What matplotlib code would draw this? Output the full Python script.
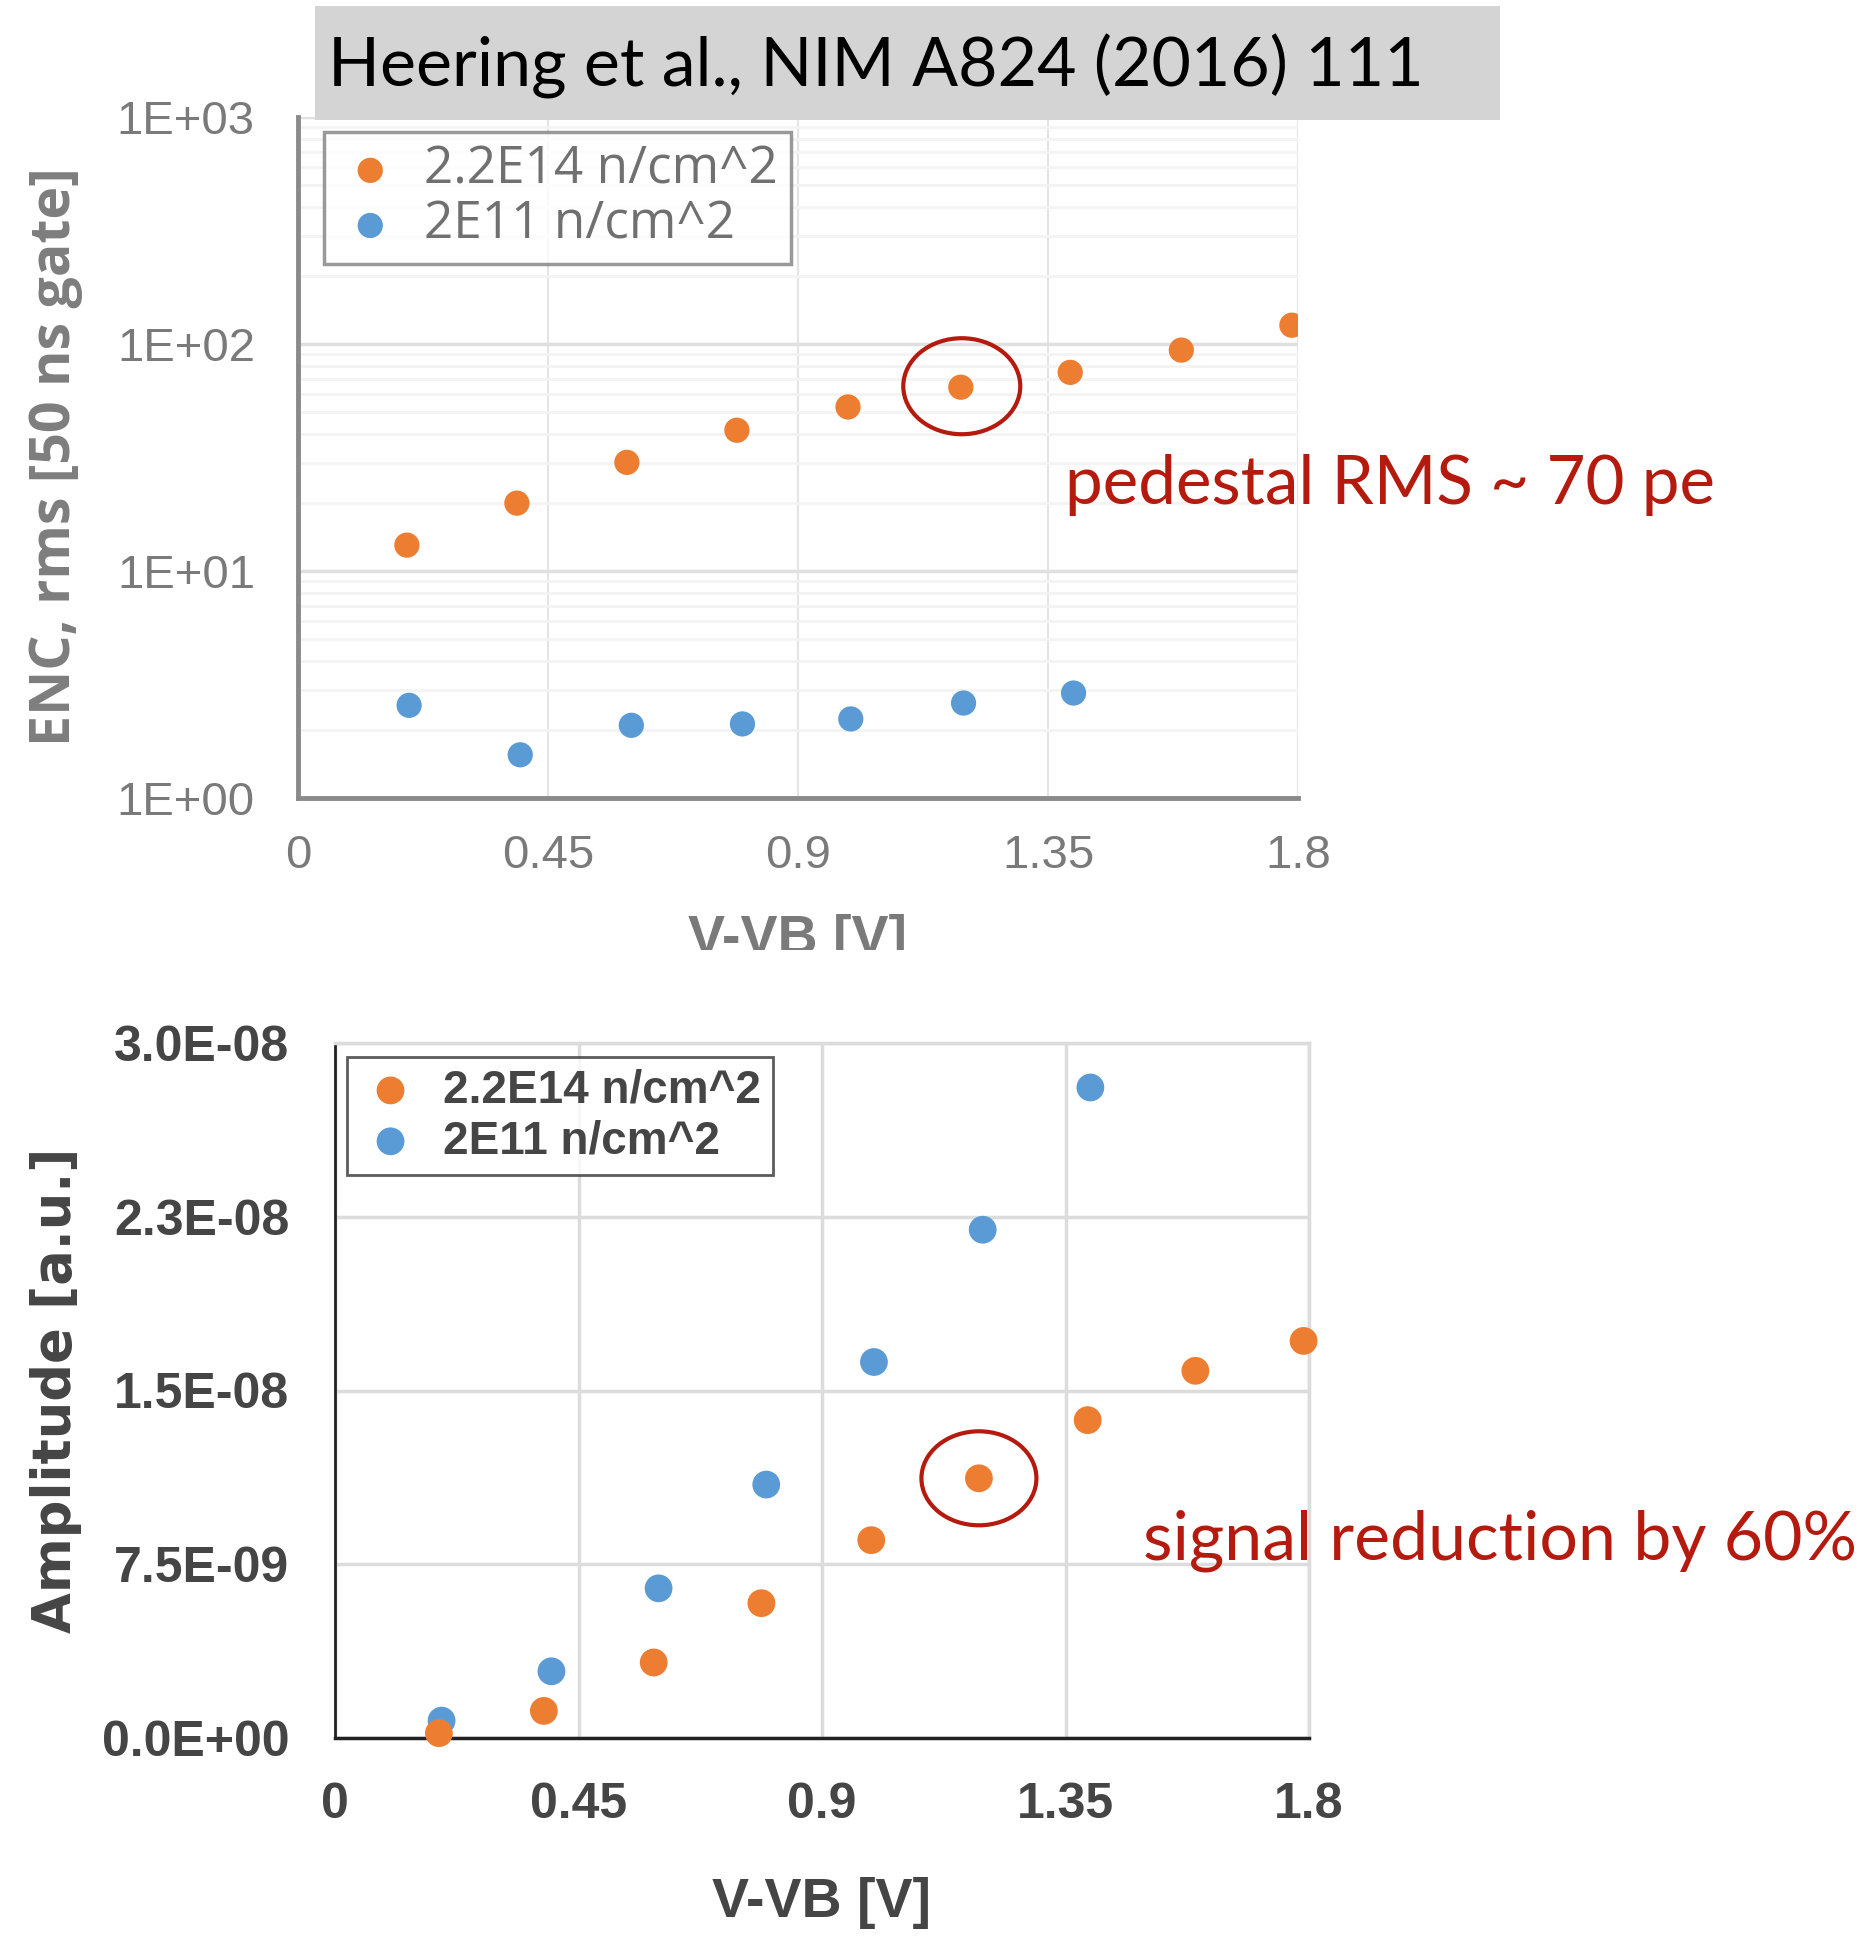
import matplotlib
matplotlib.use("Agg")
import matplotlib.pyplot as plt
from matplotlib.patches import Rectangle, Ellipse
from matplotlib.transforms import ScaledTranslation, Bbox, TransformedBbox
from matplotlib.ticker import NullFormatter, LogLocator

# ---- data -------------------------------------------------------------
voltage_hi = [0.196, 0.394, 0.592, 0.79, 0.99, 1.193, 1.39, 1.59, 1.789]
voltage_lo = [0.2, 0.4, 0.6, 0.8, 0.995, 1.198, 1.396]

enc_hi = [13.0, 19.9, 30.1, 41.7, 52.8, 64.5, 75.0, 94.0, 121.0]
enc_lo = [2.56, 1.55, 2.09, 2.12, 2.23, 2.62, 2.90]

amp_voltage_hi = [0.192, 0.386, 0.589, 0.788, 0.991, 1.19, 1.391, 1.59, 1.79]
amp_voltage_lo = [0.197, 0.4, 0.598, 0.797, 0.996, 1.197, 1.396]
amp_hi = [0.21e-9, 1.17e-9, 3.26e-9, 5.82e-9, 8.54e-9, 1.121e-8, 1.372e-8, 1.585e-8, 1.714e-8]
amp_lo = [0.75e-9, 2.88e-9, 6.46e-9, 1.094e-8, 1.623e-8, 2.194e-8, 2.808e-8]

label_hi = "2.2E14 n/cm^2"
label_lo = "2E11 n/cm^2"

x_ticks = [0, 0.45, 0.9, 1.35, 1.8]
x_tick_labels = ["0", "0.45", "0.9", "1.35", "1.8"]
enc_ticks = [1, 10, 100, 1000]
enc_tick_labels = ["1E+00", "1E+01", "1E+02", "1E+03"]
amp_ticks = [0, 7.5e-9, 1.5e-8, 2.25e-8, 3.0e-8]
amp_tick_labels = ["0.0E+00", "7.5E-09", "1.5E-08", "2.3E-08", "3.0E-08"]

ORANGE = "#ED7D31"
BLUE = "#5B9BD5"
RED = "#B41A0E"

W, H = 1870, 1938
fig = plt.figure(figsize=(W / 100, H / 100), dpi=100)
fig.patch.set_facecolor("white")


def fx(px):
    return px / W


def fy(py):
    return 1 - py / H


narrow = ["Liberation Sans Narrow", "Liberation Sans", "DejaVu Sans"]
calibri_like = ["Lato", "DejaVu Sans"]

# ---- upper panel: noise (log scale) -----------------------------------
ax1 = fig.add_axes([fx(298), fy(798), fx(1298) - fx(298), fy(117) - fy(798)])
ax1.set_yscale("log")
ax1.set_xlim(0, 1.8)
ax1.set_ylim(1, 1000)
ax1.scatter(voltage_hi, enc_hi, s=330, color=ORANGE, edgecolors="none",
            label=label_hi, zorder=3)
ax1.scatter(voltage_lo, enc_lo, s=330, color=BLUE, edgecolors="none",
            label=label_lo, zorder=3)
ax1.set_xticks(x_ticks)
ax1.set_xticklabels(x_tick_labels)
ax1.set_yticks(enc_ticks)
ax1.set_yticklabels(enc_tick_labels)
ax1.yaxis.set_minor_locator(LogLocator(base=10, subs=range(2, 10)))
ax1.yaxis.set_minor_formatter(NullFormatter())
ax1.tick_params(axis="both", which="both", length=0)
ax1.tick_params(axis="y", pad=31, labelsize=34, labelcolor="#7a7a7a")
ax1.tick_params(axis="x", pad=26, labelsize=34, labelcolor="#7a7a7a")
for lab in ax1.get_xticklabels() + ax1.get_yticklabels():
    lab.set_family(narrow)
ax1.grid(True, which="major", axis="y", color="#e0e0e0", lw=2.5)
ax1.grid(True, which="minor", axis="y", color="#f3f3f3", lw=2)
ax1.grid(True, which="major", axis="x", color="#e4e4e4", lw=1.5)
for side in ("top", "right"):
    ax1.spines[side].set_visible(False)
for side in ("left", "bottom"):
    ax1.spines[side].set_color("#8a8a8a")
    ax1.spines[side].set_linewidth(3.5)
ax1.set_axisbelow(True)

leg1 = ax1.legend(loc="upper left", bbox_to_anchor=(26 / 1000, 1 - (132 - 117) / 681),
                  borderaxespad=0, frameon=True, fancybox=False, handletextpad=0.4,
                  borderpad=0.25, labelspacing=0.08, handlelength=1.3,
                  prop={"family": ["Open Sans", "DejaVu Sans"], "size": 37})
leg1.get_frame().set_edgecolor("#808080")
leg1.get_frame().set_linewidth(2.5)
for t in leg1.get_texts():
    t.set_color("#707070")

fig.text(fx(56), fy(457), "ENC, rms [50 ns gate]", rotation=90, ha="center",
         va="center", fontsize=40, fontweight="bold", color="#7d7d7d",
         family=["Open Sans", "DejaVu Sans"])

# axis title of the upper panel, cut off at the lower edge of its image
xl1 = fig.text(fx(798), fy(940), "V-VB [V]", ha="center", va="center",
               fontsize=40, fontweight="bold", color="#7a7a7a", family=narrow)
xl1.set_clip_box(TransformedBbox(Bbox([[0, fy(950)], [1, 1]]), fig.transFigure))
xl1.set_clip_on(True)

# highlighted point and note
ring_tf = fig.dpi_scale_trans + ScaledTranslation(voltage_hi[5], enc_hi[5], ax1.transData)
ax1.add_patch(Ellipse((0.01, 0.01), 1.17, 0.96, transform=ring_tf, fill=False,
                      edgecolor=RED, lw=3, zorder=4, clip_on=False))
fig.text(fx(1065), fy(485), "pedestal RMS ~ 70 pe", ha="left", va="center",
         fontsize=48.5, color=RED, family=calibri_like)

# reference banner
fig.patches.append(Rectangle((fx(315), fy(120)), fx(1500) - fx(315), fy(6) - fy(120),
                             transform=fig.transFigure, facecolor="#d4d4d4",
                             edgecolor="none", zorder=1))
fig.text(fx(328), fy(66), "Heering et al., NIM A824 (2016) 111", ha="left",
         va="center", fontsize=49, color="black", family=calibri_like, zorder=2)

# ---- lower panel: amplitude (linear scale) ----------------------------
ax2 = fig.add_axes([fx(335), fy(1738), fx(1309) - fx(335), fy(1043) - fy(1738)])
ax2.set_xlim(0, 1.8)
ax2.set_ylim(0, 3.0e-8)
ax2.scatter(amp_voltage_hi, amp_hi, s=400, color=ORANGE, edgecolors="none",
            label=label_hi, zorder=4, clip_on=False)
ax2.scatter(amp_voltage_lo, amp_lo, s=400, color=BLUE, edgecolors="none",
            label=label_lo, zorder=3, clip_on=False)
ax2.set_xticks(x_ticks)
ax2.set_xticklabels(x_tick_labels)
ax2.set_yticks(amp_ticks)
ax2.set_yticklabels(amp_tick_labels)
ax2.tick_params(axis="both", length=0)
ax2.tick_params(axis="y", pad=33, labelsize=36, labelcolor="#454545")
ax2.tick_params(axis="x", pad=32, labelsize=36, labelcolor="#454545")
for lab in ax2.get_xticklabels() + ax2.get_yticklabels():
    lab.set_family(narrow)
    lab.set_fontweight("bold")
ax2.grid(True, color="#dcdcdc", lw=2.5)
ax2.spines["top"].set_color("#dcdcdc")
ax2.spines["top"].set_linewidth(2.5)
ax2.spines["right"].set_color("#dcdcdc")
ax2.spines["right"].set_linewidth(2.5)
ax2.spines["left"].set_color("#222222")
ax2.spines["left"].set_linewidth(2)
ax2.spines["bottom"].set_color("#222222")
ax2.spines["bottom"].set_linewidth(2.5)
ax2.set_axisbelow(True)

leg2 = ax2.legend(loc="upper left", bbox_to_anchor=((347 - 335) / 974, 1 - (1057 - 1043) / 695),
                  borderaxespad=0, frameon=True, fancybox=False, handletextpad=0.45,
                  borderpad=0.25, labelspacing=0.15, handlelength=1.4,
                  prop={"family": narrow, "size": 33, "weight": "bold"})
leg2.get_frame().set_edgecolor("#333333")
leg2.get_frame().set_linewidth(2)
for t in leg2.get_texts():
    t.set_color("#454545")

fig.text(fx(56), fy(1390), "Amplitude [a.u.]", rotation=90, ha="center",
         va="center", fontsize=38, fontweight="bold", color="#454545",
         family=["DejaVu Sans"])
fig.text(fx(822), fy(1903), "V-VB [V]", ha="center", va="center",
         fontsize=40, fontweight="bold", color="#454545", family=narrow)

ring_tf2 = fig.dpi_scale_trans + ScaledTranslation(amp_voltage_hi[5], amp_hi[5], ax2.transData)
ax2.add_patch(Ellipse((0.0, 0.0), 1.15, 0.94, transform=ring_tf2, fill=False,
                      edgecolor=RED, lw=3, zorder=5, clip_on=False))
fig.text(fx(1143), fy(1541), "signal reduction by 60%", ha="left", va="center",
         fontsize=49, color=RED, family=calibri_like)

fig.savefig("out.png", dpi=100)
